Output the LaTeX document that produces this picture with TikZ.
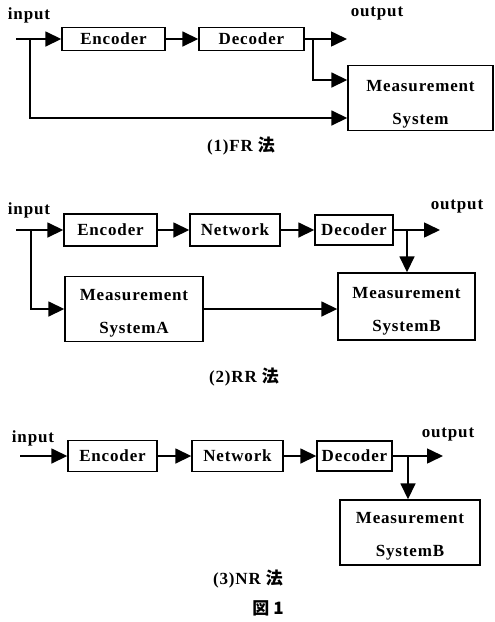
\documentclass[tikz,border=0pt]{standalone}
\usepackage{fontspec}
\setmainfont{Liberation Serif}[LetterSpace=5]
\newfontfamily\jpfont{Noto Sans CJK JP}
\usetikzlibrary{arrows.meta,positioning,calc}

\begin{document}
\begin{tikzpicture}[x=1pt,y=-1pt,
  font=\fontsize{17}{20}\selectfont\bfseries,
  blk/.style={rectangle,draw,line width=1.4pt,inner sep=0pt,align=center},
  lbl/.style={inner sep=0pt},
  arr/.style={-{Triangle[length=16pt,width=15pt]},line width=1.6pt}]
  \useasboundingbox (0,0) rectangle (495,622);

  % (1) FR
  \node[lbl] (in1) at (29,15) {input};
  \coordinate (s1) at (16,39);
  \coordinate (b1) at (30,39);
  \node[blk,minimum width=103pt,minimum height=23pt] (enc1) at (113.5,39) {Encoder};
  \node[blk,minimum width=105pt,minimum height=23pt] (dec1) at (251.5,39) {Decoder};
  \coordinate (d1) at (313,39);
  \coordinate (o1) at (347,39);
  \node[lbl] (out1) at (377,14) {output};
  \node[blk,minimum width=145pt,minimum height=65pt] (ms1) at (420.5,98) {\rule{0pt}{24pt}Measurement\\[13pt]System};
  \node[lbl] (cap1) at (241,146) {(1)FR {\jpfont 法}};

  \draw[arr] (s1) -- (enc1);
  \draw[arr] (enc1) -- (dec1);
  \draw[arr] (dec1) -- (o1);
  \draw[arr] (d1) |- ([yshift=18pt]ms1.west);
  \draw[arr] (b1) |- ([yshift=-20pt]ms1.west);

  % (2) RR
  \node[lbl] (in2) at (29,210) {input};
  \coordinate (s2) at (16,230);
  \coordinate (b2) at (31,230);
  \node[blk,minimum width=93pt,minimum height=32pt] (enc2) at (110.5,230) {Encoder};
  \node[blk,minimum width=90pt,minimum height=32pt] (net2) at (235,230) {Network};
  \node[blk,minimum width=78pt,minimum height=30pt] (dec2) at (354,230) {Decoder};
  \coordinate (d2) at (407,230);
  \coordinate (o2) at (440,230);
  \node[lbl] (out2) at (457,207) {output};
  \node[blk,minimum width=138pt,minimum height=65pt] (msa2) at (134,309) {\rule{0pt}{20pt}Measurement\\[13pt]SystemA};
  \node[blk,minimum width=137pt,minimum height=67pt] (msb2) at (406.5,306.5) {\rule{0pt}{21pt}Measurement\\[13pt]SystemB};
  \node[lbl] (cap2) at (244,377) {(2)RR {\jpfont 法}};

  \draw[arr] (s2) -- (enc2);
  \draw[arr] (enc2) -- (net2);
  \draw[arr] (net2) -- (dec2);
  \draw[arr] (dec2) -- (o2);
  \draw[arr] (d2) -- (d2 |- msb2.north);
  \draw[arr] (b2) |- (msa2.west);
  \draw[arr] (msa2) -- (msa2 -| msb2.west);

  % (3) NR
  \node[lbl] (in3) at (33,438) {input};
  \coordinate (s3) at (20,456);
  \node[blk,minimum width=89pt,minimum height=31pt] (enc3) at (112.5,456) {Encoder};
  \node[blk,minimum width=91pt,minimum height=31pt] (net3) at (237.5,456) {Network};
  \node[blk,minimum width=75pt,minimum height=30pt] (dec3) at (354.5,456) {Decoder};
  \coordinate (d3) at (408,456);
  \coordinate (o3) at (443,456);
  \node[lbl] (out3) at (448,435) {output};
  \node[blk,minimum width=140pt,minimum height=65pt] (msb3) at (410,532.5) {\rule{0pt}{18pt}Measurement\\[13pt]SystemB};
  \node[lbl] (cap3) at (248,579) {(3)NR {\jpfont 法}};
  \node[lbl] (fig) at (268,608) {\jpfont 図 1};

  \draw[arr] (s3) -- (enc3);
  \draw[arr] (enc3) -- (net3);
  \draw[arr] (net3) -- (dec3);
  \draw[arr] (dec3) -- (o3);
  \draw[arr] (d3) -- (d3 |- msb3.north);
\end{tikzpicture}
\end{document}
